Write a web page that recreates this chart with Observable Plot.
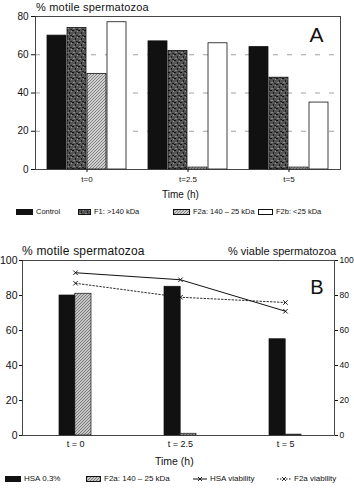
<!DOCTYPE html>
<html>
<head>
<meta charset="utf-8">
<script src="https://cdn.jsdelivr.net/npm/d3@7"></script>
<script src="https://cdn.jsdelivr.net/npm/@observablehq/plot@0.6"></script>
<style>
  body { margin: 0; background: #fff; }
  #fig { position: relative; width: 354px; height: 488px; overflow: hidden;
         font-family: "Liberation Sans", Arial, sans-serif; color: #111; background: #fff; }
  .lab { position: absolute; white-space: nowrap; line-height: 1; }
  .plot { position: absolute; left: 0; }
  .item { position: absolute; display: flex; align-items: center; white-space: nowrap; line-height: 1; }
  .item svg { margin-right: 3px; }
</style>
</head>
<body>
<svg width="0" height="0" style="position:absolute">
  <defs>
    <pattern id="texF1" width="6" height="6" patternUnits="userSpaceOnUse">
      <rect width="6" height="6" fill="#555"/>
      <rect x="0" y="0" width="2" height="1" fill="#111"/>
      <rect x="3" y="2" width="1" height="2" fill="#1a1a1a"/>
      <rect x="1" y="4" width="2" height="1" fill="#8a8a8a"/>
      <rect x="4" y="5" width="2" height="1" fill="#222"/>
      <rect x="5" y="1" width="1" height="1" fill="#999"/>
    </pattern>
    <pattern id="hatchA" width="3" height="3" patternUnits="userSpaceOnUse">
      <rect width="3" height="3" fill="#cfcfcf"/>
      <path d="M-1,1 L1,-1 M0,3 L3,0 M2,4 L4,2" stroke="#6f6f6f" stroke-width="0.8"/>
    </pattern>
    <pattern id="hatchB" width="3" height="3" patternUnits="userSpaceOnUse">
      <rect width="3" height="3" fill="#c4c4c4"/>
      <path d="M-1,1 L1,-1 M0,3 L3,0 M2,4 L4,2" stroke="#5e5e5e" stroke-width="0.7"/>
    </pattern>
  </defs>
</svg>
<div id="fig"></div>
<script>
// ---- Panel A: motility after incubation with fractions ----
const timesA = ["t=0", "t=2.5", "t=5"];
const seriesA = ["Control", "F1: >140 kDa", "F2a: 140 – 25 kDa", "F2b: <25 kDa"];
const motileControl = [70, 67, 64];
const motileF1 = [74, 62, 48];
const motileF2a = [50, 1, 1];
const motileF2b = [77, 66, 35];
const gridA = [20, 40, 60];
const ticksA = [0, 20, 40, 60, 80];

// ---- Panel B: HSA vs F2a, motility bars and viability lines ----
const timesB = ["t = 0", "t = 2.5", "t = 5"];
const seriesB = ["HSA 0.3%", "F2a: 140 – 25 kDa"];
const motileHSA = [80, 85, 55];
const motileF2aB = [81, 1, 0.5];
const linesB = ["HSA viability", "F2a viability"];
const viableHSA = [93, 89, 71];
const viableF2a = [87, 79, 76];
const ticksB = [0, 20, 40, 60, 80, 100];

const fig = document.getElementById("fig");
const font = "'Liberation Sans', Arial, sans-serif";

function addLabel(text, left, top, size, extra = {}) {
  const d = document.createElement("div");
  d.className = "lab";
  d.textContent = text;
  Object.assign(d.style, {left: left + "px", top: top + "px", fontSize: size + "px"}, extra);
  fig.appendChild(d);
  return d;
}

function swatchSvg(w, h, fill, stroke) {
  return `<svg width="${w}" height="${h}"><rect x="0.5" y="0.5" width="${w - 1}" height="${h - 1}" fill="${fill}" stroke="${stroke}" stroke-width="1"/></svg>`;
}
function lineSvg(w, h, dash) {
  const c = h / 2;
  return `<svg width="${w}" height="${h}"><line x1="0" y1="${c}" x2="${w}" y2="${c}" stroke="#111" stroke-width="1" ${dash ? 'stroke-dasharray="1.5,1.5"' : ""}/>` +
    `<path d="M${w / 2 - 2},${c - 2}L${w / 2 + 2},${c + 2}M${w / 2 - 2},${c + 2}L${w / 2 + 2},${c - 2}" stroke="#111" stroke-width="0.9"/></svg>`;
}
function addItem(html, text, left, centerY, size) {
  const d = document.createElement("div");
  d.className = "item";
  d.innerHTML = html + `<span>${text}</span>`;
  Object.assign(d.style, {left: left + "px", top: (centerY - 4) + "px", height: "8px", fontSize: size + "px"});
  fig.appendChild(d);
}

// ================= Panel A =================
{
  const W = 354, H = 190;
  const m = {top: 16, right: 14, bottom: 21, left: 35};
  const band = {paddingInner: 0.213, paddingOuter: 0.1065, align: 0.5};
  const bw = d3.scaleBand().domain(timesA).range([m.left, W - m.right])
    .paddingInner(band.paddingInner).paddingOuter(band.paddingOuter).align(band.align).bandwidth();
  const values = [motileControl, motileF1, motileF2a, motileF2b];
  const fills = ["#111", "url(#texF1)", "url(#hatchA)", "#fff"];
  const n = seriesA.length;
  const bars = seriesA.map((s, k) =>
    Plot.barY(timesA.map((t, j) => ({time: t, value: values[k][j]})), {
      x: "time", y: "value", fill: fills[k], stroke: "#111", strokeWidth: 0.8,
      insetLeft: k * bw / n, insetRight: (n - 1 - k) * bw / n
    })
  );
  const chart = Plot.plot({
    width: W, height: H,
    marginTop: m.top, marginRight: m.right, marginBottom: m.bottom, marginLeft: m.left,
    style: {fontFamily: font, background: "transparent", color: "#111"},
    x: {domain: timesA, ...band, label: null},
    y: {domain: [0, 80], label: null},
    marks: [
      Plot.ruleY(gridA, {stroke: "#8a8a8a", strokeWidth: 0.8, strokeDasharray: "5,9"}),
      ...bars,
      Plot.frame({stroke: "#333", strokeWidth: 0.9}),
      Plot.axisY({ticks: ticksA, tickSize: 4, tickPadding: 3, fontSize: 10, label: null}),
      Plot.axisX({tickSize: 3, tickPadding: 4, fontSize: 8, label: null}),
      Plot.text(["A"], {frameAnchor: "top-right", dx: -17, dy: 11, fontSize: 21, fill: "#111"})
    ]
  });
  chart.classList.add("plot");
  chart.style.top = "0px";
  fig.appendChild(chart);

  addLabel("% motile spermatozoa", 36, 2, 11, {letterSpacing: "0.2px"});
  addLabel("Time (h)", 162, 190, 10);

  const lx = [16, 78, 173, 258];
  const sw = [17, 13, 17, 15];
  seriesA.forEach((s, k) => addItem(swatchSvg(sw[k], 6, fills[k], "#111"), s, lx[k], 212, 7.5));
}

// ================= Panel B =================
{
  const W = 354, H = 213, top = 240;
  const m = {top: 20, right: 20, bottom: 18, left: 22};
  const band = {paddingInner: 0.7, paddingOuter: 0.33, align: 0.53};
  const bw = d3.scaleBand().domain(timesB).range([m.left, W - m.right])
    .paddingInner(band.paddingInner).paddingOuter(band.paddingOuter).align(band.align).bandwidth();
  const values = [motileHSA, motileF2aB];
  const fills = ["#111", "url(#hatchB)"];
  const n = seriesB.length;
  const bars = seriesB.map((s, k) =>
    Plot.barY(timesB.map((t, j) => ({time: t, value: values[k][j]})), {
      x: "time", y: "value", fill: fills[k], stroke: "#111", strokeWidth: 0.7,
      insetLeft: k * bw / n, insetRight: (n - 1 - k) * bw / n
    })
  );
  const hsaV = timesB.map((t, j) => ({time: t, value: viableHSA[j]}));
  const f2aV = timesB.map((t, j) => ({time: t, value: viableF2a[j]}));
  const chart = Plot.plot({
    width: W, height: H,
    marginTop: m.top, marginRight: m.right, marginBottom: m.bottom, marginLeft: m.left,
    style: {fontFamily: font, background: "transparent", color: "#111"},
    x: {domain: timesB, ...band, label: null},
    y: {domain: [0, 100], label: null},
    marks: [
      ...bars,
      Plot.line(hsaV, {x: "time", y: "value", stroke: "#111", strokeWidth: 1}),
      Plot.dot(hsaV, {x: "time", y: "value", symbol: "times", r: 2.2, stroke: "#111", strokeWidth: 0.9}),
      Plot.line(f2aV, {x: "time", y: "value", stroke: "#111", strokeWidth: 0.9, strokeDasharray: "1.5,2"}),
      Plot.dot(f2aV, {x: "time", y: "value", symbol: "times", r: 2.2, stroke: "#111", strokeWidth: 0.9}),
      Plot.frame({stroke: "#333", strokeWidth: 0.9}),
      Plot.axisY({ticks: ticksB, tickSize: 3, tickPadding: 2, fontSize: 10.5, label: null}),
      Plot.axisY({anchor: "right", ticks: ticksB, tickSize: 3, tickPadding: 2, fontSize: 8.5, label: null}),
      Plot.axisX({tickSize: 0, tickPadding: 5, fontSize: 9, label: null}),
      Plot.text(["B"], {frameAnchor: "top-right", dx: -11, dy: 19, fontSize: 20, fill: "#111"})
    ]
  });
  chart.classList.add("plot");
  chart.style.top = top + "px";
  fig.appendChild(chart);

  addLabel("% motile spermatozoa", 22, 245, 12, {letterSpacing: "0.2px"});
  addLabel("% viable spermatozoa", 228, 246, 11);
  addLabel("Time (h)", 155, 456, 10.5);

  addItem(swatchSvg(16, 6, fills[0], "#111"), seriesB[0], 5, 479, 8);
  addItem(swatchSvg(15, 6, fills[1], "#111"), seriesB[1], 86, 479, 8);
  addItem(lineSvg(14, 6, false), linesB[0], 193, 479, 8);
  addItem(lineSvg(14, 6, true), linesB[1], 277, 479, 8);
}
</script>
</body>
</html>
